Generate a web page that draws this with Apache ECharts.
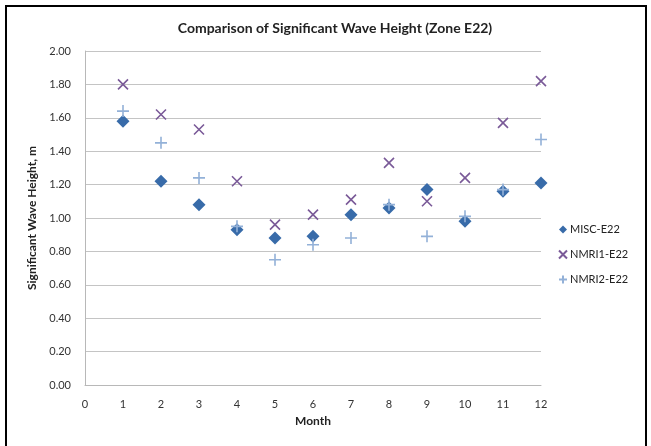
<!DOCTYPE html>
<html lang="en">
<head>
    <meta charset="UTF-8">
    <title>Comparison of Significant Wave Height (Zone E22)</title>
    <script src="https://cdn.jsdelivr.net/npm/echarts@6/dist/echarts.min.js"></script>
    <style>
        html, body { margin: 0; padding: 0; background: #fff; }
        #frame { position: absolute; left: 5px; top: 5px; width: 642px; height: 450px; border: 2px solid #000; box-sizing: border-box; }
        #main { position: absolute; left: 0; top: 0; width: 651px; height: 446px; }
    </style>
</head>
<body>
<div id="frame"></div>
<div id="main"></div>
<script type="text/javascript">
  var months = [1, 2, 3, 4, 5, 6, 7, 8, 9, 10, 11, 12];
  var misc = [1.58, 1.22, 1.08, 0.93, 0.88, 0.89, 1.02, 1.06, 1.17, 0.98, 1.16, 1.21];
  var nmri1 = [1.80, 1.62, 1.53, 1.22, 0.96, 1.02, 1.11, 1.33, 1.10, 1.24, 1.57, 1.82];
  var nmri2 = [1.64, 1.45, 1.24, 0.95, 0.75, 0.84, 0.88, 1.08, 0.89, 1.01, 1.17, 1.47];

  function pairs(vals) {
    return months.map(function (m, i) { return [m, vals[i]]; });
  }

  var font = 'Lato, "Open Sans", sans-serif';
  var crossPath = 'path://M0,0L10,10M10,0L0,10';
  var plusPath = 'path://M5,0L5,10M0,5L10,5';

  var myChart = echarts.init(document.getElementById('main'), null, {renderer: 'canvas'});
  var option = {
    animation: false,
    title: {
      text: 'Comparison of Significant Wave Height (Zone E22)',
      left: 330,
      textAlign: 'center',
      top: 16,
      textStyle: {fontFamily: font, fontSize: 14, fontWeight: 'bold', color: '#222'}
    },
    legend: {
      orient: 'vertical',
      left: 553,
      top: 219,
      itemGap: 14,
      itemWidth: 8,
      itemHeight: 8,
      textStyle: {fontFamily: font, fontSize: 11, color: '#222', padding: [0, 0, 0, -2]},
      data: ['MISC-E22', 'NMRI1-E22', 'NMRI2-E22']
    },
    grid: {left: 85, right: 110, top: 51, bottom: 61},
    xAxis: {
      type: 'value',
      min: 0,
      max: 12,
      interval: 1,
      name: 'Month',
      nameLocation: 'middle',
      nameGap: 30,
      nameTextStyle: {fontFamily: font, fontSize: 12, fontWeight: 'bold', color: '#222'},
      axisLine: {lineStyle: {color: '#b8b8b8'}},
      axisTick: {show: false},
      splitLine: {show: false},
      axisLabel: {fontFamily: font, fontSize: 11, color: '#333', margin: 14}
    },
    yAxis: {
      type: 'value',
      min: 0,
      max: 2,
      interval: 0.2,
      name: 'Significant Wave Height, m',
      nameLocation: 'middle',
      nameGap: 46,
      nameTextStyle: {fontFamily: font, fontSize: 12, fontWeight: 'bold', color: '#222'},
      axisLine: {show: true, lineStyle: {color: '#b8b8b8'}},
      axisTick: {show: false},
      splitLine: {lineStyle: {color: '#c4c4c4'}},
      axisLabel: {
        fontFamily: font, fontSize: 11, color: '#333', margin: 14,
        formatter: function (v) { return v.toFixed(2); }
      }
    },
    series: [
      {
        name: 'MISC-E22',
        type: 'scatter',
        symbol: 'diamond',
        symbolSize: 13,
        itemStyle: {color: '#386ba9', opacity: 1},
        data: pairs(misc)
      },
      {
        name: 'NMRI1-E22',
        type: 'scatter',
        symbol: crossPath,
        symbolSize: 10,
        itemStyle: {color: 'rgba(0,0,0,0)', borderColor: '#7a5a98', borderWidth: 1.6, opacity: 1},
        data: pairs(nmri1)
      },
      {
        name: 'NMRI2-E22',
        type: 'scatter',
        symbol: plusPath,
        symbolSize: 12,
        itemStyle: {color: 'rgba(0,0,0,0)', borderColor: '#93b1d8', borderWidth: 1.6, opacity: 1},
        data: pairs(nmri2)
      }
    ]
  };
  myChart.setOption(option);

  window.addEventListener('resize', function () {
    myChart.resize();
  });
</script>
</body>
</html>
